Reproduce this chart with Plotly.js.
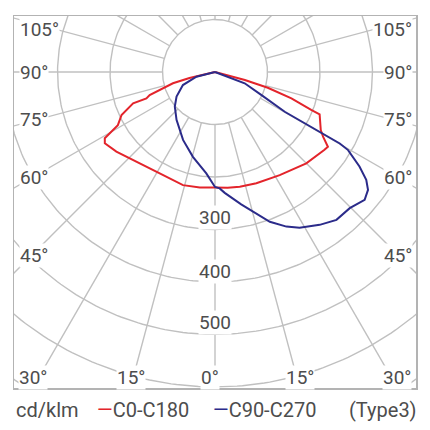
<!DOCTYPE html>
<html><head><meta charset="utf-8">
<script src="https://cdn.plot.ly/plotly-3.0.1.min.js"></script>
<style>html,body{margin:0;padding:0;background:#fff}#chart{width:430px;height:430px}</style>
</head><body><div id="chart"></div>
<script>
// Gamma angle from nadir in degrees (negative = left half: C180 / C270), intensity in cd/klm
const redGamma = [-90, -76.7, -75.0, -70.6, -69.0, -69.1, -65.3, -61.3, -59.0, -57.1, -51.1, -39.5, -28.6, -15.8, -7.5, 0, 6.2, 12.2, 20.4, 32.1, 45.0, 54.6, 56.5, 59.1, 60.2, 61.2, 68.0, 68.5, 71.0, 73.4, 74.9, 72.8, 90];
const redIntensity = [0, 50, 83, 132, 140, 167, 196, 211, 245, 250, 241.5, 225, 220, 224, 222, 220, 222, 223.5, 226, 232, 246, 256, 258, 240, 234, 230, 215, 197, 154, 105, 59, 19, 0];

const blueGamma = [-90, -75.8, -67.9, -57.4, -49.3, -38.8, -25.2, -14.6, -4.9, 0, 2.3, 4.6, 11.2, 15.2, 20.1, 24.8, 28.5, 34.4, 39.4, 44.7, 47.4, 49.5, 52.4, 54.5, 56.8, 58.9, 59.6, 60.2, 60.2, 60.3, 60.3, 63.6, 69.2, 90];
const blueIntensity = [0, 36.5, 66, 87, 101, 117, 143, 167, 194, 219, 222, 231, 257, 276, 304, 324.5, 337.6, 353, 364.6, 365, 370, 375, 368, 354, 329, 300, 294, 274, 234, 204, 153, 99, 60.5, 0];

const ringValues = [100, 200, 300, 400, 500, 600, 700, 800];
const spokeAngles = [0, 15, 30, 45, 60, 75, 90, 105, 120, 135, 150, 165, 180, 195, 210, 225, 240, 255, 270, 285, 300, 315, 330, 345];
const ringLabels = ['300', '400', '500'];
const sideAngleLabels = ['105°', '90°', '75°', '60°', '45°'];
const bottomAngleLabels = ['30°', '15°', '0°', '15°', '30°'];
const seriesNames = ['C0-C180', 'C90-C270'];
const unitLabel = 'cd/klm';
const typeLabel = '(Type3)';

const RED = '#e3242b', BLUE = '#2b2b8a', GRID = '#c0c0c0', TXT = '#4d4d4d';
const FONT = 'Roboto, "DejaVu Sans", sans-serif';

function toXY(g, r) { const t = g * Math.PI / 180; return [r * Math.sin(t), -r * Math.cos(t)]; }
function curve(gs, vs) {
  const x = [], y = [];
  gs.forEach((g, i) => { const p = toXY(g, vs[i]); x.push(p[0]); y.push(p[1]); });
  return {x, y};
}

// grid rings
const rx = [], ry = [];
ringValues.forEach(r => {
  for (let a = 0; a <= 360; a += 1) { const p = toXY(a, r); rx.push(p[0]); ry.push(p[1]); }
  rx.push(null); ry.push(null);
});
// spokes from innermost ring outward
const sx = [], sy = [];
spokeAngles.forEach(a => {
  const p1 = toXY(a, ringValues[0]), p2 = toXY(a, 1500);
  sx.push(p1[0], p2[0], null); sy.push(p1[1], p2[1], null);
});

const red = curve(redGamma, redIntensity);
const blue = curve(blueGamma, blueIntensity);

const traces = [
  {x: rx, y: ry, mode: 'lines', line: {color: GRID, width: 1.4}, hoverinfo: 'skip', showlegend: false},
  {x: sx, y: sy, mode: 'lines', line: {color: GRID, width: 1.4}, hoverinfo: 'skip', showlegend: false},
  {x: red.x, y: red.y, mode: 'lines', name: seriesNames[0], line: {color: RED, width: 2}, showlegend: false},
  {x: blue.x, y: blue.y, mode: 'lines', name: seriesNames[1], line: {color: BLUE, width: 2}, showlegend: false}
];

// pixel -> paper helpers (plot area: x 14..416, y 16..388)
const PX = x => (x - 14) / 402;
const PY = y => (388 - y) / 372;
const ann = [];
const lf = {family: FONT, size: 19, color: TXT};
const sideY = [30, 72, 120, 178, 255];
sideAngleLabels.forEach((t, i) => {
  ann.push({text: t, x: PX(19), y: PY(sideY[i]), xref: 'paper', yref: 'paper', xanchor: 'left', yanchor: 'middle', showarrow: false, font: lf, bgcolor: 'white', borderpad: 0});
  ann.push({text: t, x: PX(413), y: PY(sideY[i]), xref: 'paper', yref: 'paper', xanchor: 'right', yanchor: 'middle', showarrow: false, font: lf, bgcolor: 'white', borderpad: 0});
});
const bottomX = [33, 131, 210, 300, 397];
bottomAngleLabels.forEach((t, i) => {
  ann.push({text: t, x: PX(bottomX[i]), y: PY(377), xref: 'paper', yref: 'paper', xanchor: 'center', yanchor: 'middle', showarrow: false, font: lf, bgcolor: 'white', borderpad: 0});
});
const ringLabelY = [217.5, 271.5, 322.5];
ringLabels.forEach((t, i) => {
  ann.push({text: t, x: PX(215), y: PY(ringLabelY[i]), xref: 'paper', yref: 'paper', xanchor: 'center', yanchor: 'middle', showarrow: false, font: lf, bgcolor: 'white', borderpad: 0});
});
const gf = {family: FONT, size: 20, color: TXT};
ann.push({text: unitLabel, x: PX(14), y: PY(410), xref: 'paper', yref: 'paper', xanchor: 'left', yanchor: 'middle', showarrow: false, font: gf});
ann.push({text: '<span style="color:' + RED + '">—</span>' + seriesNames[0], x: PX(95), y: PY(410), xref: 'paper', yref: 'paper', xanchor: 'left', yanchor: 'middle', showarrow: false, font: gf});
ann.push({text: '<span style="color:' + BLUE + '">—</span>' + seriesNames[1], x: PX(211), y: PY(410), xref: 'paper', yref: 'paper', xanchor: 'left', yanchor: 'middle', showarrow: false, font: gf});
ann.push({text: typeLabel, x: PX(419), y: PY(410), xref: 'paper', yref: 'paper', xanchor: 'right', yanchor: 'middle', showarrow: false, font: gf});

const axisBase = {showgrid: false, zeroline: false, showticklabels: false, ticks: '', showline: true, mirror: true, linecolor: '#b3b3b3', linewidth: 1.5, fixedrange: true};
const layout = {
  width: 430, height: 430,
  margin: {l: 14, r: 14, t: 16, b: 42, pad: 0},
  paper_bgcolor: 'white', plot_bgcolor: 'white',
  xaxis: Object.assign({range: [-383, 383]}, axisBase),
  yaxis: Object.assign({range: [-602.1, 106.7]}, axisBase),
  annotations: ann,
  showlegend: false
};
Plotly.newPlot('chart', traces, layout, {displayModeBar: false, staticPlot: true});
</script>
</body></html>
